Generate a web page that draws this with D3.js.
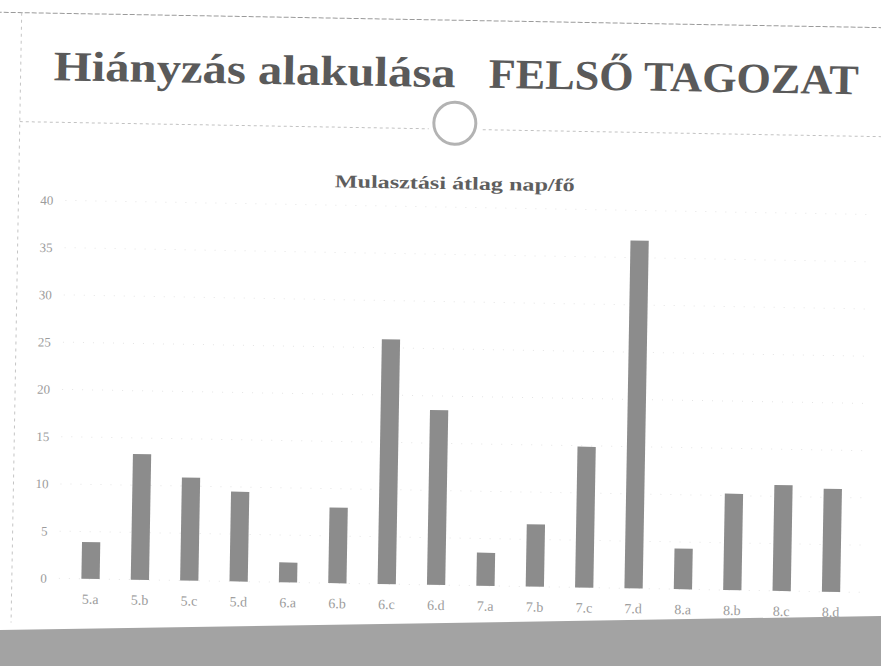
<!DOCTYPE html>
<html>
<head>
<meta charset="utf-8">
<script src="https://cdn.jsdelivr.net/npm/d3@7/dist/d3.min.js"></script>
<style>
  html, body { margin: 0; padding: 0; background: #fff; }
  svg { display: block; }
</style>
</head>
<body>
<script>
// Osztályok és a mulasztási átlag (nap/fő)
const categories = ["5.a", "5.b", "5.c", "5.d", "6.a", "6.b", "6.c", "6.d",
                    "7.a", "7.b", "7.c", "7.d", "8.a", "8.b", "8.c", "8.d"];
const absenceAvg = [3.9, 13.3, 10.9, 9.5, 2.1, 8.0, 25.9, 18.5,
                    3.5, 6.6, 14.9, 36.8, 4.3, 10.2, 11.2, 10.9];
const yTicks = [0, 5, 10, 15, 20, 25, 30, 35, 40];
const slideTitleLeft = "Hiányzás alakulása";
const slideTitleRight = "FELSŐ TAGOZAT";
const chartTitle = "Mulasztási átlag nap/fő";

const W = 881, H = 666;
const serif = "'Liberation Serif', 'DejaVu Serif', serif";

const svg = d3.select("body").append("svg")
  .attr("width", W).attr("height", H);

// Bottom decorative band of the slide
svg.append("path")
  .attr("d", d3.line()([[0, 630], [W, 616], [W, H], [0, H]]) + "Z")
  .attr("fill", "#a3a3a3");

// The slide content sits slightly tilted
const slide = svg.append("g").attr("transform", "rotate(1, 440, 400)");

// Slide frame lines
slide.append("line")
  .attr("x1", -10).attr("x2", W + 10).attr("y1", 20).attr("y2", 20)
  .attr("stroke", "#9a9a9a").attr("stroke-width", 1).attr("stroke-dasharray", "5,2");
slide.append("line")
  .attr("x1", 15).attr("x2", 15).attr("y1", 20).attr("y2", 630)
  .attr("stroke", "#c4c4c4").attr("stroke-width", 1).attr("stroke-dasharray", "3,4");

// Title separator with the ring ornament
slide.append("line")
  .attr("x1", 15).attr("x2", 424).attr("y1", 129).attr("y2", 129)
  .attr("stroke", "#c2c2c2").attr("stroke-width", 1).attr("stroke-dasharray", "3,3");
slide.append("line")
  .attr("x1", 478).attr("x2", W + 10).attr("y1", 129).attr("y2", 129)
  .attr("stroke", "#c2c2c2").attr("stroke-width", 1).attr("stroke-dasharray", "3,3");
slide.append("circle")
  .attr("cx", 450).attr("cy", 123).attr("r", 21)
  .attr("fill", "none").attr("stroke", "#b3b3b3").attr("stroke-width", 3);

// Slide title
slide.append("text")
  .attr("x", 48).attr("y", 87)
  .attr("textLength", 402).attr("lengthAdjust", "spacingAndGlyphs")
  .attr("font-family", serif).attr("font-weight", "bold").attr("font-size", 42)
  .attr("fill", "#5a5a5a")
  .text(slideTitleLeft);
slide.append("text")
  .attr("x", 483).attr("y", 87)
  .attr("textLength", 370).attr("lengthAdjust", "spacingAndGlyphs")
  .attr("font-family", serif).attr("font-weight", "bold").attr("font-size", 42)
  .attr("fill", "#5a5a5a")
  .text(slideTitleRight);

// Chart title
slide.append("text")
  .attr("x", 451).attr("y", 189)
  .attr("text-anchor", "middle")
  .attr("textLength", 240).attr("lengthAdjust", "spacingAndGlyphs")
  .attr("font-family", serif).attr("font-weight", "bold").attr("font-size", 18)
  .attr("fill", "#5e5e5e")
  .text(chartTitle);

// Scales
const x = d3.scaleBand()
  .domain(categories)
  .range([69, 859])
  .paddingInner(0.63)
  .paddingOuter(0.315);

const y = d3.scaleLinear()
  .domain([0, 40])
  .range([585, 207]);

// Gridlines (very faint, sparse dots)
slide.append("g")
  .selectAll("line")
  .data(yTicks)
  .join("line")
  .attr("x1", 62).attr("x2", 866)
  .attr("y1", d => y(d)).attr("y2", d => y(d))
  .attr("stroke", "#e4e4e4").attr("stroke-width", 1)
  .attr("stroke-dasharray", "1,9");

// Y axis labels
const yAxis = slide.append("g")
  .attr("transform", "translate(50,0)")
  .call(d3.axisLeft(y).tickValues(yTicks).tickSize(0).tickPadding(0));
yAxis.select(".domain").remove();
yAxis.selectAll("text")
  .attr("font-family", serif).attr("font-size", 13)
  .attr("fill", "#9c9c9c");

// Bars
slide.append("g")
  .selectAll("rect")
  .data(categories.map((c, i) => ({ c, v: absenceAvg[i] })))
  .join("rect")
  .attr("x", d => x(d.c))
  .attr("width", x.bandwidth())
  .attr("y", d => y(d.v))
  .attr("height", d => y(0) - y(d.v))
  .attr("fill", "#8c8c8c");

// X axis labels
const xAxis = slide.append("g")
  .attr("transform", `translate(0,${y(0)})`)
  .call(d3.axisBottom(x).tickSize(0).tickPadding(15));
xAxis.select(".domain").remove();
xAxis.selectAll("text")
  .attr("font-family", serif).attr("font-size", 14)
  .attr("fill", "#9c9c9c");
</script>
</body>
</html>
